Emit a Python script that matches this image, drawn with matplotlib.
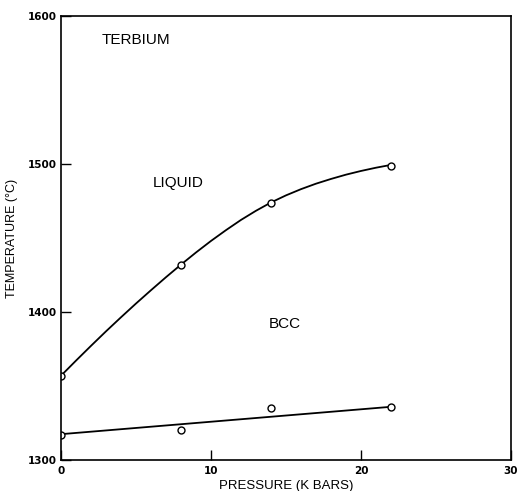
import numpy as np
import matplotlib.pyplot as plt

# measured points (open circles)
p_liq = [0, 8, 14, 22]
t_liq = [1357, 1432, 1474, 1499]

p_bcc = [0, 8, 14, 22]
t_bcc = [1317, 1320, 1335, 1336]

# hand-drawn curves
p_liq_curve = [0, 1, 2, 3, 4, 5, 6, 7, 8, 9, 10, 11, 12, 13, 14, 15, 16, 17, 18, 19, 20, 21, 22]
t_liq_curve = [1357, 1367.2, 1377.2, 1387.0, 1396.5, 1405.8, 1414.8, 1423.6, 1432.1,
               1440.3, 1448.1, 1455.4, 1462.3, 1468.5, 1474.1, 1478.9, 1483.1, 1486.8,
               1490.0, 1492.9, 1495.4, 1497.6, 1499.5]

p_bcc_curve = [0, 22]
t_bcc_curve = [1317.5, 1336]

xticks = [0, 10, 20, 30]
yticks = [1300, 1400, 1500, 1600]

plt.rcParams['font.family'] = ['Liberation Sans', 'DejaVu Sans']

fig = plt.figure(figsize=(5.19, 4.91), dpi=100)
ax = fig.add_axes([0.1175, 0.063, 0.867, 0.904])

ax.plot(p_liq_curve, t_liq_curve, color='black', lw=1.3)
ax.plot(p_bcc_curve, t_bcc_curve, color='black', lw=1.3)
ax.plot(p_liq, t_liq, 'o', mfc='white', mec='black', ms=5, mew=1)
ax.plot(p_bcc, t_bcc, 'o', mfc='white', mec='black', ms=5, mew=1)

ax.set_xlim(0, 30)
ax.set_ylim(1300, 1600)
ax.set_xticks(xticks)
ax.set_yticks(yticks)
ax.tick_params(direction='in', length=7, width=1)
ax.tick_params(axis='x', pad=4)
ax.tick_params(axis='y', pad=3)
for lab in ax.get_xticklabels() + ax.get_yticklabels():
    lab.set_fontfamily('DejaVu Sans')
    lab.set_fontweight('bold')
    lab.set_fontsize(7.5)
for s in ax.spines.values():
    s.set_linewidth(1.2)

ax.set_xlabel("PRESSURE (K BARS)", fontsize=9.5)
ax.xaxis.set_label_coords(0.5, -0.045)
ax.set_ylabel("TEMPERATURE (°C)", fontsize=9)
ax.yaxis.set_label_coords(-0.096, 0.5)

ax.text(5.0, 1584, "TERBIUM", fontsize=11, ha='center', va='center')
ax.text(7.8, 1487, "LIQUID", fontsize=11, ha='center', va='center')
ax.text(14.9, 1392, "BCC", fontsize=11, ha='center', va='center')

fig.savefig("out.png", dpi=100)
